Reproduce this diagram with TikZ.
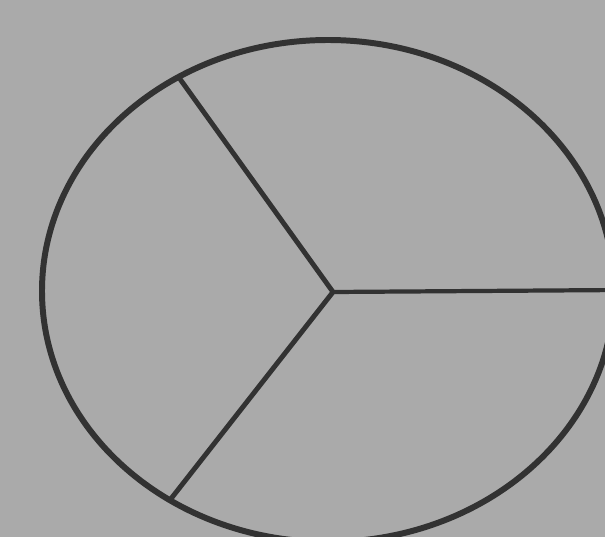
\documentclass[tikz,border=0pt]{standalone}
\usepackage{tikz}
\definecolor{sfondo}{RGB}{170,170,170}
\definecolor{tratto}{RGB}{50,50,50}
\begin{document}
\begin{tikzpicture}[x=0.02cm,y=-0.02cm]
    
    % Sfondo
    \fill[sfondo] (0,0) rectangle (605,537);
    \useasboundingbox (0,0) rectangle (605,537);
    \clip (0,0) rectangle (605,537);
    
    % Centro ed estremi dei raggi
    \coordinate (O) at (333,292);
    \coordinate (A) at (180,79);
    \coordinate (B) at (170,500);
    \coordinate (C) at (620,290);
    
    % Cerchio
    \draw[tratto, line width=3.4pt] (328,291) ellipse [x radius=286, y radius=251];
    
    % Raggi
    \draw[tratto, line width=2.8pt, line join=round] (A) -- (O) -- (B);
    \draw[tratto, line width=2.4pt] (O) -- (C);
\end{tikzpicture}
\end{document}
